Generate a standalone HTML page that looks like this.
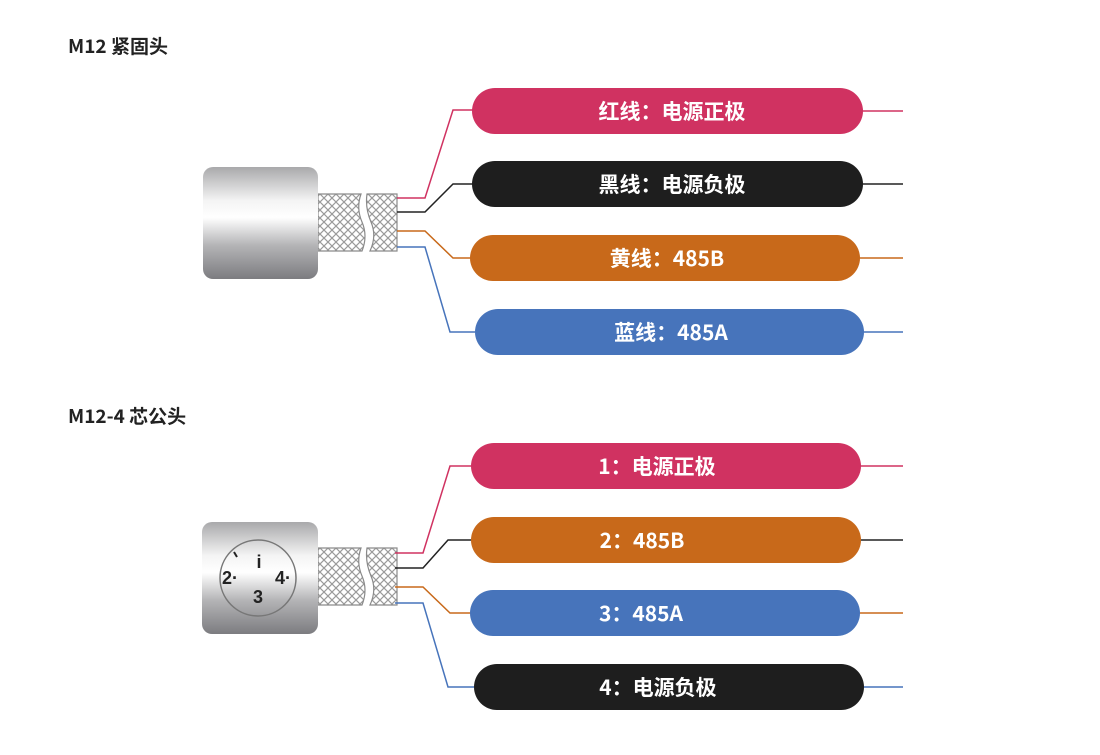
<!DOCTYPE html>
<html><head><meta charset="utf-8"><style>
html,body{margin:0;padding:0;background:#fff;}
svg{display:block;}
text{font-family:"Noto Sans CJK SC","Liberation Sans",sans-serif;font-weight:bold;}
text.pin{font-family:"Liberation Sans",sans-serif;}
</style></head><body>
<svg width="1100" height="755" viewBox="0 0 1100 755" xmlns="http://www.w3.org/2000/svg">
<defs>
<linearGradient id="metal" x1="0" y1="0" x2="0" y2="1">
<stop offset="0" stop-color="#a9a9ab"/>
<stop offset="0.3" stop-color="#f4f4f4"/>
<stop offset="0.45" stop-color="#ffffff"/>
<stop offset="0.7" stop-color="#b4b4b6"/>
<stop offset="1" stop-color="#7c7c80"/>
</linearGradient>
<pattern id="mesh" width="8" height="8" patternUnits="userSpaceOnUse">
<rect width="8" height="8" fill="#fff"/>
<path d="M0 0L8 8M8 0L0 8" stroke="#9a9a9a" stroke-width="1.2"/>
</pattern>
<g id="braid">
<path d="M318 0 H361 Q356 14 362 28 Q368 42 362 57 H318 Z" fill="url(#mesh)" stroke="#8a8a8a" stroke-width="1.2"/>
<path d="M367 0 H397 V57 H370 Q377 42 371 28 Q365 14 367 0 Z" fill="url(#mesh)" stroke="#8a8a8a" stroke-width="1.2"/>
</g>
</defs>

<text x="68" y="53" font-size="19" fill="#222">M12 紧固头</text>
<text x="68" y="423" font-size="19" fill="#222">M12-4 芯公头</text>

<!-- Connector 1 -->
<use href="#braid" y="194"/>
<rect x="203" y="167" width="115" height="112" rx="10" fill="url(#metal)"/>
<g fill="none" stroke-width="1.5">
<path d="M397 198H425L453 110H475" stroke="#d03261"/>
<path d="M397 212H425L453 184H475" stroke="#222"/>
<path d="M397 231H425L453 258H475" stroke="#c8691a"/>
<path d="M397 247H425L450 332H475" stroke="#4774bb"/>
<path d="M860 111H903" stroke="#d03261"/>
<path d="M860 184H903" stroke="#222"/>
<path d="M858 258H903" stroke="#c8691a"/>
<path d="M862 332H903" stroke="#4774bb"/>
</g>
<rect x="472" y="88" width="391" height="46" rx="23" fill="#d03261"/>
<rect x="472" y="161" width="391" height="46" rx="23" fill="#1e1e1e"/>
<rect x="470" y="235" width="390" height="46" rx="23" fill="#c8691a"/>
<rect x="475" y="309" width="389" height="46" rx="23" fill="#4774bb"/>
<g font-size="21" fill="#fff" text-anchor="middle">
<text x="672" y="119">红线：电源正极</text>
<text x="672" y="192">黑线：电源负极</text>
<text x="667" y="266">黄线：485B</text>
<text x="671" y="340">蓝线：485A</text>
</g>

<!-- Connector 2 -->
<use href="#braid" y="548"/>
<rect x="202" y="522" width="116" height="112" rx="10" fill="url(#metal)"/>
<circle cx="258" cy="578" r="38" fill="none" stroke="#777" stroke-width="1.5"/>
<g font-size="18" fill="#222" text-anchor="middle">
<text class="pin" x="259" y="568">i</text>
<text class="pin" x="230" y="584">2·</text>
<text class="pin" x="283" y="584">4·</text>
<text class="pin" x="258" y="603">3</text>
</g>
<path d="M234 552L237 557" stroke="#222" stroke-width="2"/>
<g fill="none" stroke-width="1.5">
<path d="M395 553H423L450 466H473" stroke="#d03261"/>
<path d="M395 568H423L448 540H473" stroke="#222"/>
<path d="M395 587H423L450 613H473" stroke="#c8691a"/>
<path d="M395 603H423L448 687H475" stroke="#4774bb"/>
<path d="M858 466H903" stroke="#d03261"/>
<path d="M858 540H903" stroke="#222"/>
<path d="M858 613H903" stroke="#c8691a"/>
<path d="M860 687H903" stroke="#4774bb"/>
</g>
<rect x="471" y="443" width="390" height="46" rx="23" fill="#d03261"/>
<rect x="471" y="517" width="390" height="46" rx="23" fill="#c8691a"/>
<rect x="470" y="590" width="390" height="46" rx="23" fill="#4774bb"/>
<rect x="474" y="664" width="390" height="46" rx="23" fill="#1e1e1e"/>
<g font-size="21" fill="#fff" text-anchor="middle">
<text x="657" y="474">1：电源正极</text>
<text x="642" y="548">2：485B</text>
<text x="641" y="621">3：485A</text>
<text x="658" y="695">4：电源负极</text>
</g>
</svg>
</body></html>
